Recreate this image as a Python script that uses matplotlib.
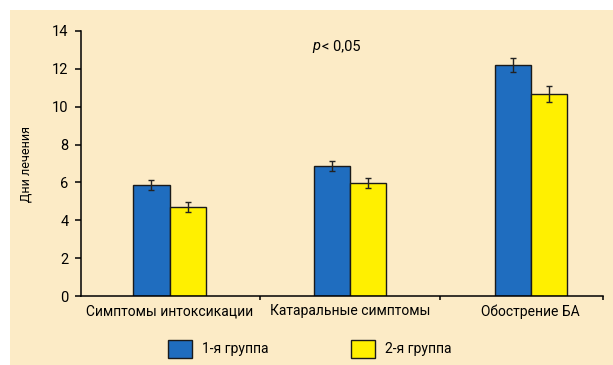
import matplotlib
matplotlib.use("Agg")
import matplotlib.pyplot as plt
from matplotlib.patches import Rectangle, Patch
import numpy as np

# data
categories = ["Симптомы интоксикации", "Катаральные симптомы", "Обострение БА"]
group1 = [5.85, 6.87, 12.22]
group2 = [4.70, 5.97, 10.67]
group1_err = [0.27, 0.28, 0.37]
group2_err = [0.28, 0.27, 0.40]
series_names = ["1-я группа", "2-я группа"]
yticks = [0, 2, 4, 6, 8, 10, 12, 14]

BLUE = "#1f6dbf"
YELLOW = "#fff000"
BEIGE = "#fcebc6"
FONT = ["Liberation Sans Narrow", "Roboto", "DejaVu Sans"]
plt.rcParams["font.family"] = FONT

fig = plt.figure(figsize=(6.13, 3.65), dpi=100, facecolor="white")
# beige panel behind the chart
fig.patches.append(Rectangle((10 / 613, 0), 1, 1 - 10 / 365, transform=fig.transFigure,
                             facecolor=BEIGE, edgecolor="none", zorder=-10))

ax = fig.add_axes([81 / 613, 1 - 296 / 365, 522 / 613, 265 / 365])
ax.set_facecolor("none")

x = np.arange(len(categories))
w = 0.2
ekw = dict(ecolor="#222222", elinewidth=1.0, capsize=2, capthick=1.0)
ax.bar(x - w / 2, group1, w, color=BLUE, edgecolor="#1a1a1a", linewidth=1.0,
       yerr=group1_err, error_kw=ekw, label=series_names[0])
ax.bar(x + w / 2, group2, w, color=YELLOW, edgecolor="#1a1a1a", linewidth=1.0,
       yerr=group2_err, error_kw=ekw, label=series_names[1])

ax.set_xlim(-0.49, 2.40)
ax.set_ylim(0, 14)
for s in ["top", "right"]:
    ax.spines[s].set_visible(False)
ax.spines["left"].set_linewidth(1.1)
ax.spines["bottom"].set_linewidth(1.1)

ax.set_yticks(yticks)
ax.tick_params(axis="y", direction="out", length=4, width=1.1, labelsize=10.5, pad=5)
ax.set_xticks(x)
ax.set_xticklabels(categories, fontsize=10)
ax.tick_params(axis="x", which="major", length=0, pad=6)
ax.set_xticks([0.5, 1.5, 2.4], minor=True)
ax.tick_params(axis="x", which="minor", direction="out", length=3, width=1.1)

ax.set_ylabel("Дни лечения", fontsize=9, labelpad=14)

ax.text(0.79, 13.2, "p", fontsize=10.5, style="italic", ha="left", va="center")
ax.text(0.845, 13.2, "< 0,05", fontsize=10.5, ha="left", va="center")

handles = [Patch(facecolor=BLUE, edgecolor="#1a1a1a", linewidth=1.0),
           Patch(facecolor=YELLOW, edgecolor="#1a1a1a", linewidth=1.0)]
fig.legend(handles, series_names, loc="center", bbox_to_anchor=(0.505, 0.044),
           ncol=2, frameon=False, fontsize=10, handlelength=1.75, handleheight=1.7,
           handletextpad=0.7, columnspacing=5.9)

fig.savefig("out.png", dpi=100, facecolor="white")
